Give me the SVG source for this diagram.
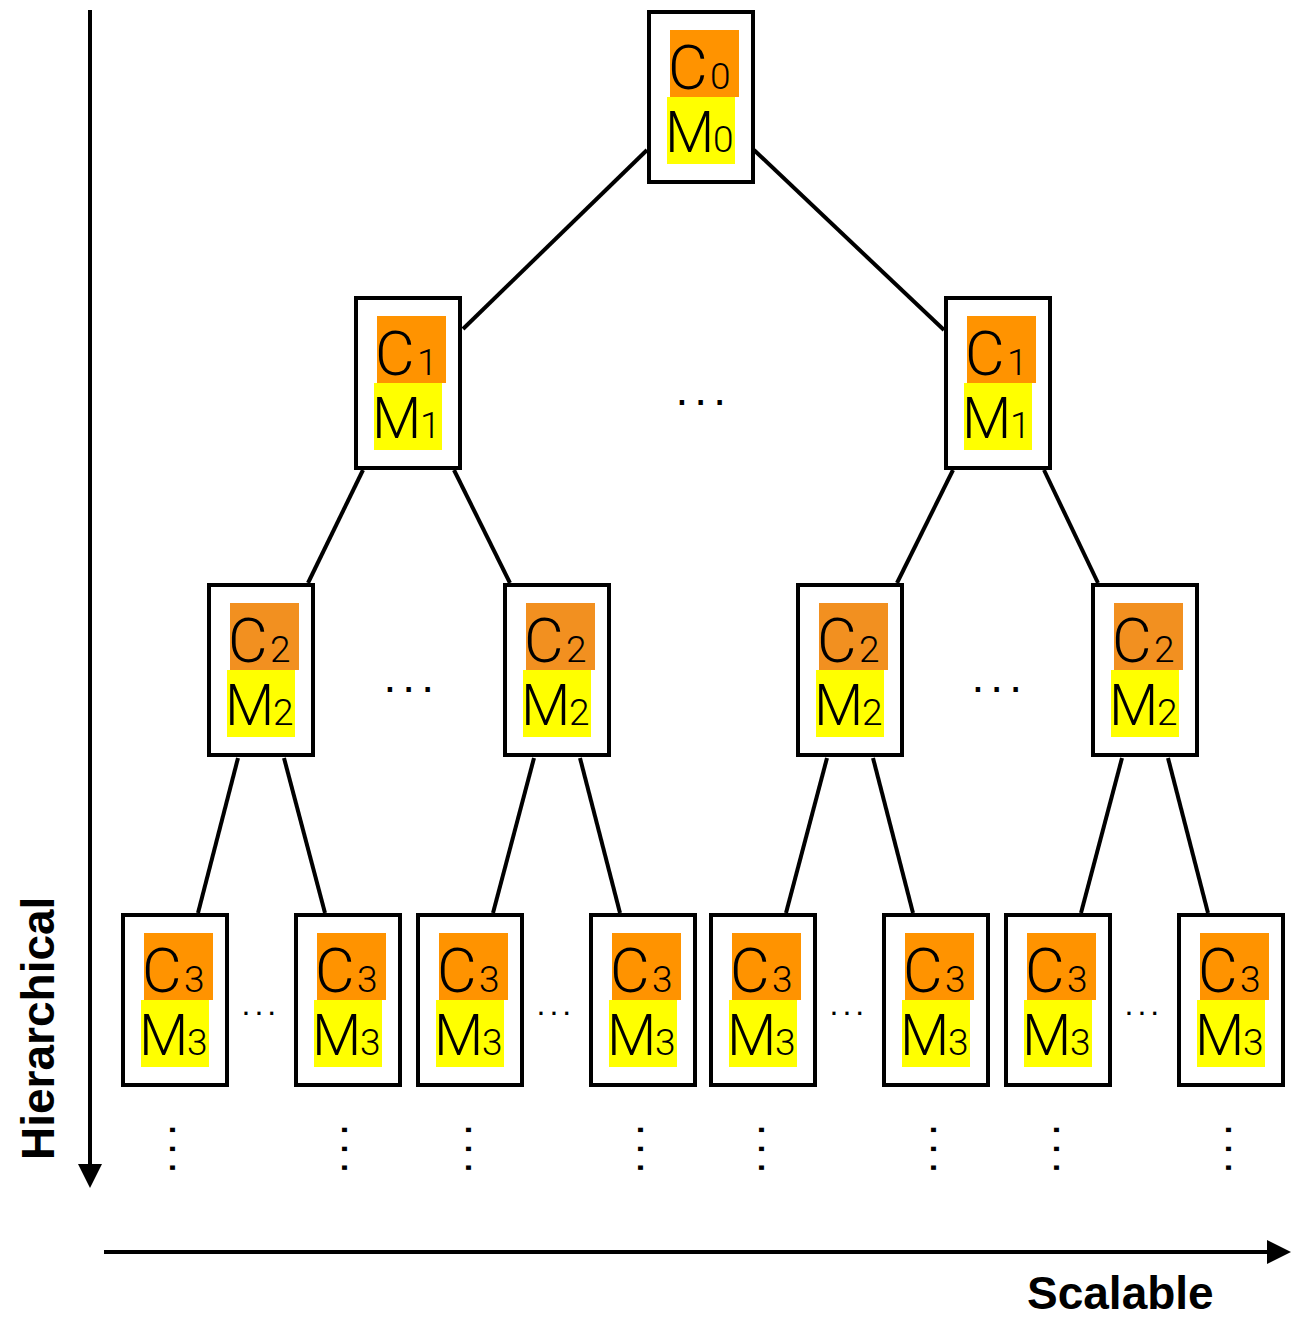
<svg xmlns="http://www.w3.org/2000/svg" width="1291" height="1318" viewBox="0 0 1291 1318">
  <style>
    .box { fill: #ffffff; stroke: #000000; stroke-width: 4; }
    .c { fill: #FF9300; }
    .c2 { fill: #F29020; }
    .m { fill: #FFFF00; }
    .lbl { font-family: Roboto, "Liberation Sans", sans-serif; font-weight: 300; font-size: 57px; fill: #000000; }
    .lc { font-size: 61px; }
    .sub { font-size: 37px; }
    .edge { stroke: #000000; stroke-width: 4; fill: none; }
    .axis { stroke: #000000; stroke-width: 4; fill: none; marker-end: url(#arrow); }
    .axlbl { font-family: "Liberation Sans", Arial, sans-serif; font-weight: bold; font-size: 46px; fill: #000000; }
    .dots { font-family: "Liberation Sans", Arial, sans-serif; font-size: 46px; letter-spacing: 6px; fill: #000000; }
    .dots-s { font-family: "Liberation Sans", Arial, sans-serif; font-size: 32px; letter-spacing: 4px; fill: #000000; }
  </style>
  <defs>
    <marker id="arrow" viewBox="0 0 24 24" markerWidth="24" markerHeight="24" refX="2" refY="12" orient="auto" markerUnits="userSpaceOnUse">
      <path d="M0,0 L24,12 L0,24 Z" fill="#000000"/>
    </marker>
  </defs>

  <rect width="1291" height="1318" fill="#ffffff"/>

  <!-- axes -->
  <g id="axes">
    <line class="axis" x1="90" y1="10" x2="90" y2="1166"/>
    <line class="axis" x1="104" y1="1252" x2="1269" y2="1252"/>
    <text class="axlbl" transform="translate(54,1160) rotate(-90)">Hierarchical</text>
    <text class="axlbl" x="1027" y="1309">Scalable</text>
  </g>

  <!-- tree edges -->
  <g id="connectors">
    <line class="edge" x1="647" y1="150" x2="463" y2="329"/>
    <line class="edge" x1="754" y1="150" x2="944" y2="330"/>
    <line class="edge" x1="363" y1="470" x2="308" y2="583"/>
    <line class="edge" x1="454" y1="470" x2="510" y2="583"/>
    <line class="edge" x1="953" y1="470" x2="897" y2="583"/>
    <line class="edge" x1="1044" y1="470" x2="1098" y2="583"/>
    <line class="edge" x1="238" y1="758" x2="198" y2="913"/>
    <line class="edge" x1="284" y1="758" x2="325" y2="913"/>
    <line class="edge" x1="534" y1="758" x2="493" y2="913"/>
    <line class="edge" x1="580" y1="758" x2="620" y2="913"/>
    <line class="edge" x1="827" y1="758" x2="786" y2="913"/>
    <line class="edge" x1="873" y1="758" x2="913" y2="913"/>
    <line class="edge" x1="1122" y1="758" x2="1081" y2="913"/>
    <line class="edge" x1="1168" y1="758" x2="1208" y2="913"/>
  </g>

  <!-- level 0 -->
  <g id="n0" transform="translate(647,10)">
    <rect class="box" x="2" y="2" width="104" height="170"/>
    <rect class="c" x="23" y="20" width="69" height="67"/>
    <rect class="m" x="20" y="87" width="68" height="67"/>
    <text class="lbl"><tspan class="lc" x="21" y="79">C</tspan><tspan class="sub" x="63" y="79">0</tspan><tspan x="18" y="142">M</tspan><tspan class="sub" x="66" y="142">0</tspan></text>
  </g>

  <!-- level 1 -->
  <g id="n1a" transform="translate(354,296)">
    <rect class="box" x="2" y="2" width="104" height="170"/>
    <rect class="c" x="23" y="20" width="69" height="67"/>
    <rect class="m" x="20" y="87" width="68" height="67"/>
    <text class="lbl"><tspan class="lc" x="21" y="79">C</tspan><tspan class="sub" x="63" y="79">1</tspan><tspan x="18" y="142">M</tspan><tspan class="sub" x="66" y="142">1</tspan></text>
  </g>
  <g id="n1b" transform="translate(944,296)">
    <rect class="box" x="2" y="2" width="104" height="170"/>
    <rect class="c" x="23" y="20" width="69" height="67"/>
    <rect class="m" x="20" y="87" width="68" height="67"/>
    <text class="lbl"><tspan class="lc" x="21" y="79">C</tspan><tspan class="sub" x="63" y="79">1</tspan><tspan x="18" y="142">M</tspan><tspan class="sub" x="66" y="142">1</tspan></text>
  </g>

  <!-- level 2 -->
  <g id="n2a" transform="translate(207,583)">
    <rect class="box" x="2" y="2" width="104" height="170"/>
    <rect class="c2" x="23" y="20" width="69" height="67"/>
    <rect class="m" x="20" y="87" width="68" height="67"/>
    <text class="lbl"><tspan class="lc" x="21" y="79">C</tspan><tspan class="sub" x="63" y="79">2</tspan><tspan x="18" y="142">M</tspan><tspan class="sub" x="66" y="142">2</tspan></text>
  </g>
  <g id="n2b" transform="translate(503,583)">
    <rect class="box" x="2" y="2" width="104" height="170"/>
    <rect class="c2" x="23" y="20" width="69" height="67"/>
    <rect class="m" x="20" y="87" width="68" height="67"/>
    <text class="lbl"><tspan class="lc" x="21" y="79">C</tspan><tspan class="sub" x="63" y="79">2</tspan><tspan x="18" y="142">M</tspan><tspan class="sub" x="66" y="142">2</tspan></text>
  </g>
  <g id="n2c" transform="translate(796,583)">
    <rect class="box" x="2" y="2" width="104" height="170"/>
    <rect class="c2" x="23" y="20" width="69" height="67"/>
    <rect class="m" x="20" y="87" width="68" height="67"/>
    <text class="lbl"><tspan class="lc" x="21" y="79">C</tspan><tspan class="sub" x="63" y="79">2</tspan><tspan x="18" y="142">M</tspan><tspan class="sub" x="66" y="142">2</tspan></text>
  </g>
  <g id="n2d" transform="translate(1091,583)">
    <rect class="box" x="2" y="2" width="104" height="170"/>
    <rect class="c2" x="23" y="20" width="69" height="67"/>
    <rect class="m" x="20" y="87" width="68" height="67"/>
    <text class="lbl"><tspan class="lc" x="21" y="79">C</tspan><tspan class="sub" x="63" y="79">2</tspan><tspan x="18" y="142">M</tspan><tspan class="sub" x="66" y="142">2</tspan></text>
  </g>

  <!-- level 3 -->
  <g id="n3a" transform="translate(121,913)">
    <rect class="box" x="2" y="2" width="104" height="170"/>
    <rect class="c" x="23" y="20" width="69" height="67"/>
    <rect class="m" x="20" y="87" width="68" height="67"/>
    <text class="lbl"><tspan class="lc" x="21" y="79">C</tspan><tspan class="sub" x="63" y="79">3</tspan><tspan x="18" y="142">M</tspan><tspan class="sub" x="66" y="142">3</tspan></text>
  </g>
  <g id="n3b" transform="translate(294,913)">
    <rect class="box" x="2" y="2" width="104" height="170"/>
    <rect class="c" x="23" y="20" width="69" height="67"/>
    <rect class="m" x="20" y="87" width="68" height="67"/>
    <text class="lbl"><tspan class="lc" x="21" y="79">C</tspan><tspan class="sub" x="63" y="79">3</tspan><tspan x="18" y="142">M</tspan><tspan class="sub" x="66" y="142">3</tspan></text>
  </g>
  <g id="n3c" transform="translate(416,913)">
    <rect class="box" x="2" y="2" width="104" height="170"/>
    <rect class="c" x="23" y="20" width="69" height="67"/>
    <rect class="m" x="20" y="87" width="68" height="67"/>
    <text class="lbl"><tspan class="lc" x="21" y="79">C</tspan><tspan class="sub" x="63" y="79">3</tspan><tspan x="18" y="142">M</tspan><tspan class="sub" x="66" y="142">3</tspan></text>
  </g>
  <g id="n3d" transform="translate(589,913)">
    <rect class="box" x="2" y="2" width="104" height="170"/>
    <rect class="c" x="23" y="20" width="69" height="67"/>
    <rect class="m" x="20" y="87" width="68" height="67"/>
    <text class="lbl"><tspan class="lc" x="21" y="79">C</tspan><tspan class="sub" x="63" y="79">3</tspan><tspan x="18" y="142">M</tspan><tspan class="sub" x="66" y="142">3</tspan></text>
  </g>
  <g id="n3e" transform="translate(709,913)">
    <rect class="box" x="2" y="2" width="104" height="170"/>
    <rect class="c" x="23" y="20" width="69" height="67"/>
    <rect class="m" x="20" y="87" width="68" height="67"/>
    <text class="lbl"><tspan class="lc" x="21" y="79">C</tspan><tspan class="sub" x="63" y="79">3</tspan><tspan x="18" y="142">M</tspan><tspan class="sub" x="66" y="142">3</tspan></text>
  </g>
  <g id="n3f" transform="translate(882,913)">
    <rect class="box" x="2" y="2" width="104" height="170"/>
    <rect class="c" x="23" y="20" width="69" height="67"/>
    <rect class="m" x="20" y="87" width="68" height="67"/>
    <text class="lbl"><tspan class="lc" x="21" y="79">C</tspan><tspan class="sub" x="63" y="79">3</tspan><tspan x="18" y="142">M</tspan><tspan class="sub" x="66" y="142">3</tspan></text>
  </g>
  <g id="n3g" transform="translate(1004,913)">
    <rect class="box" x="2" y="2" width="104" height="170"/>
    <rect class="c" x="23" y="20" width="69" height="67"/>
    <rect class="m" x="20" y="87" width="68" height="67"/>
    <text class="lbl"><tspan class="lc" x="21" y="79">C</tspan><tspan class="sub" x="63" y="79">3</tspan><tspan x="18" y="142">M</tspan><tspan class="sub" x="66" y="142">3</tspan></text>
  </g>
  <g id="n3h" transform="translate(1177,913)">
    <rect class="box" x="2" y="2" width="104" height="170"/>
    <rect class="c" x="23" y="20" width="69" height="67"/>
    <rect class="m" x="20" y="87" width="68" height="67"/>
    <text class="lbl"><tspan class="lc" x="21" y="79">C</tspan><tspan class="sub" x="63" y="79">3</tspan><tspan x="18" y="142">M</tspan><tspan class="sub" x="66" y="142">3</tspan></text>
  </g>

  <!-- horizontal ellipses between siblings -->
  <g id="ellipses">
    <text class="dots" x="675.6" y="405.3">...</text>
    <text class="dots" x="383.6" y="692.3">...</text>
    <text class="dots" x="971.6" y="692.3">...</text>
    <text class="dots-s" x="241.5" y="1014.6">...</text>
    <text class="dots-s" x="536.5" y="1014.6">...</text>
    <text class="dots-s" x="829.5" y="1014.6">...</text>
    <text class="dots-s" x="1124.5" y="1014.6">...</text>
  </g>

  <!-- vertical ellipses below the bottom level -->
  <g id="continuation">
    <text class="dots" transform="translate(169.7,1123.6) rotate(90)">...</text>
    <text class="dots" transform="translate(341.7,1123.6) rotate(90)">...</text>
    <text class="dots" transform="translate(465.7,1123.6) rotate(90)">...</text>
    <text class="dots" transform="translate(637.7,1123.6) rotate(90)">...</text>
    <text class="dots" transform="translate(758.7,1123.6) rotate(90)">...</text>
    <text class="dots" transform="translate(930.7,1123.6) rotate(90)">...</text>
    <text class="dots" transform="translate(1053.7,1123.6) rotate(90)">...</text>
    <text class="dots" transform="translate(1225.7,1123.6) rotate(90)">...</text>
  </g>
</svg>
